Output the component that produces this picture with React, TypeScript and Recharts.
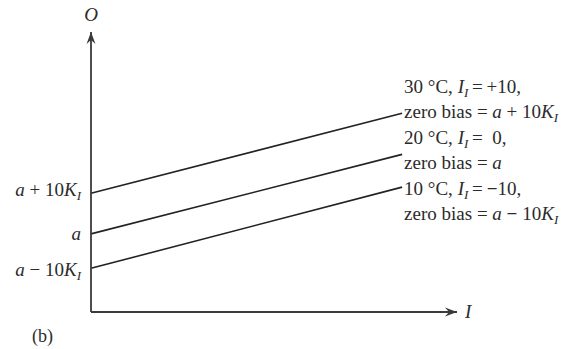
import { Label, Line, LineChart, ReferenceDot, XAxis, YAxis } from 'recharts'

// Input I at the two ends of each characteristic
const inputs = [0, 85]
// Output O of each characteristic at those inputs
const hot = [42.4, 71]
const room = [27.9, 56.3]
const cold = [15.6, 44.6]

const data = inputs.map((x, i) => ({ x, hot: hot[i], room: room[i], cold: cold[i] }))

// Zero-bias levels sit where each line meets the O axis
const biasTicks = [cold[0], room[0], hot[0]]

type Seg = { t: string; i?: boolean; s?: boolean; b?: boolean }

const tickText: Seg[][] = [
  [{ t: 'a', i: true }, { t: ' \u2212 10' }, { t: 'K', i: true }, { t: 'I', i: true, s: true }],
  [{ t: 'a', i: true }],
  [{ t: 'a', i: true }, { t: ' + 10' }, { t: 'K', i: true }, { t: 'I', i: true, s: true }],
]

const curveText: Record<string, Seg[][]> = {
  hot: [
    [{ t: '30 °C, ' }, { t: 'I', i: true }, { t: 'I', i: true, s: true }, { t: '\u2009=\u2009+10,' }],
    [{ t: 'zero bias = ' }, { t: 'a', i: true }, { t: ' + 10' }, { t: 'K', i: true }, { t: 'I', i: true, s: true }],
  ],
  room: [
    [{ t: '20 °C, ' }, { t: 'I', i: true }, { t: 'I', i: true, s: true }, { t: '\u2009=\u00a0\u00a00,' }],
    [{ t: 'zero bias = ' }, { t: 'a', i: true }],
  ],
  cold: [
    [{ t: '10 °C, ' }, { t: 'I', i: true }, { t: 'I', i: true, s: true }, { t: '\u2009=\u2009' }, { t: '\u2212', b: true }, { t: '10,' }],
    [{ t: 'zero bias = ' }, { t: 'a', i: true }, { t: ' ' }, { t: '\u2212', b: true }, { t: ' 10' }, { t: 'K', i: true }, { t: 'I', i: true, s: true }],
  ],
}

// vertical shift of the first text row relative to the line end
const curveShift: Record<string, number> = { hot: -20, room: -10, cold: 8 }
const tickShift = [8, 6, 2.5]

const FONT = "'Liberation Serif', 'Times New Roman', serif"
const INK = '#2b2b2b'
const AXIS = '#3a3a3a'
const ROW = 24.5
const SIZE = 19

function Rich({ segs, x, y, anchor = 'start' }: { segs: Seg[]; x: number; y: number; anchor?: 'start' | 'end' | 'middle' }) {
  let shift = 0
  return (
    <text x={x} y={y} textAnchor={anchor} fontFamily={FONT} fontSize={SIZE} fill={INK} style={{ whiteSpace: 'pre' }}>
      {segs.map((g, k) => {
        const target = g.s ? 4 : 0
        const dy = target - shift
        shift = target
        return (
          <tspan
            key={k}
            dy={dy}
            fontSize={g.s ? 13 : undefined}
            fontStyle={g.i ? 'italic' : undefined}
            fontWeight={g.b ? 'bold' : undefined}
          >
            {g.t}
          </tspan>
        )
      })}
    </text>
  )
}

function BiasTick(props: any) {
  const { x, y, payload } = props
  const idx = biasTicks.indexOf(payload.value)
  if (idx < 0) return null
  return <Rich segs={tickText[idx]} x={x} y={y + tickShift[idx]} anchor="end" />
}

function endLabel(key: string) {
  return (props: any) => {
    const { x, y, index } = props
    if (index !== inputs.length - 1) return null
    const rows = curveText[key]
    const y0 = y + curveShift[key]
    return (
      <g>
        {rows.map((r, k) => (
          <Rich key={k} segs={r} x={x + 2} y={y0 + k * ROW} />
        ))}
      </g>
    )
  }
}

const arrowRight = (p: any) => (
  <path d={`M${p.cx},${p.cy} L${p.cx - 12},${p.cy - 4.5} L${p.cx - 8},${p.cy} L${p.cx - 12},${p.cy + 4.5} Z`} fill={AXIS} />
)
const arrowUp = (p: any) => (
  <path d={`M${p.cx},${p.cy} L${p.cx - 4.5},${p.cy + 12} L${p.cx},${p.cy + 8} L${p.cx + 4.5},${p.cy + 12} Z`} fill={AXIS} />
)

const axisLine = { stroke: AXIS, strokeWidth: 1.8 }

export default function App() {
  return (
    <div style={{ position: 'absolute', left: 0, top: 0, width: 564, height: 349, background: '#fff' }}>
      <LineChart width={564} height={349} data={data} margin={{ top: 32, right: 107, bottom: 7, left: 11 }}>
        <XAxis type="number" dataKey="x" domain={[0, 100]} height={30} tick={false} tickLine={false} axisLine={axisLine}>
          <Label
            content={({ viewBox }: any) => (
              <text x={viewBox.x + viewBox.width + 8} y={viewBox.y + 6} fontFamily={FONT} fontSize={SIZE} fontStyle="italic" fill={INK}>
                I
              </text>
            )}
          />
        </XAxis>
        <YAxis
          type="number"
          domain={[0, 100]}
          ticks={biasTicks}
          width={80}
          tickSize={0}
          tickMargin={10}
          tickLine={false}
          axisLine={axisLine}
          tick={<BiasTick />}
        >
          <Label
            content={({ viewBox }: any) => (
              <text x={viewBox.x + viewBox.width} y={viewBox.y - 11} textAnchor="middle" fontFamily={FONT} fontSize={SIZE} fontStyle="italic" fill={INK}>
                O
              </text>
            )}
          />
        </YAxis>
        <ReferenceDot x={100} y={0} ifOverflow="visible" shape={arrowRight} />
        <ReferenceDot x={0} y={100} ifOverflow="visible" shape={arrowUp} />
        <Line dataKey="hot" stroke="#222" strokeWidth={1.6} dot={false} isAnimationActive={false} label={endLabel('hot')} />
        <Line dataKey="room" stroke="#222" strokeWidth={1.6} dot={false} isAnimationActive={false} label={endLabel('room')} />
        <Line dataKey="cold" stroke="#222" strokeWidth={1.6} dot={false} isAnimationActive={false} label={endLabel('cold')} />
      </LineChart>
      <div style={{ position: 'absolute', left: 32, top: 326, fontFamily: FONT, fontSize: 18, color: INK }}>(b)</div>
    </div>
  )
}
